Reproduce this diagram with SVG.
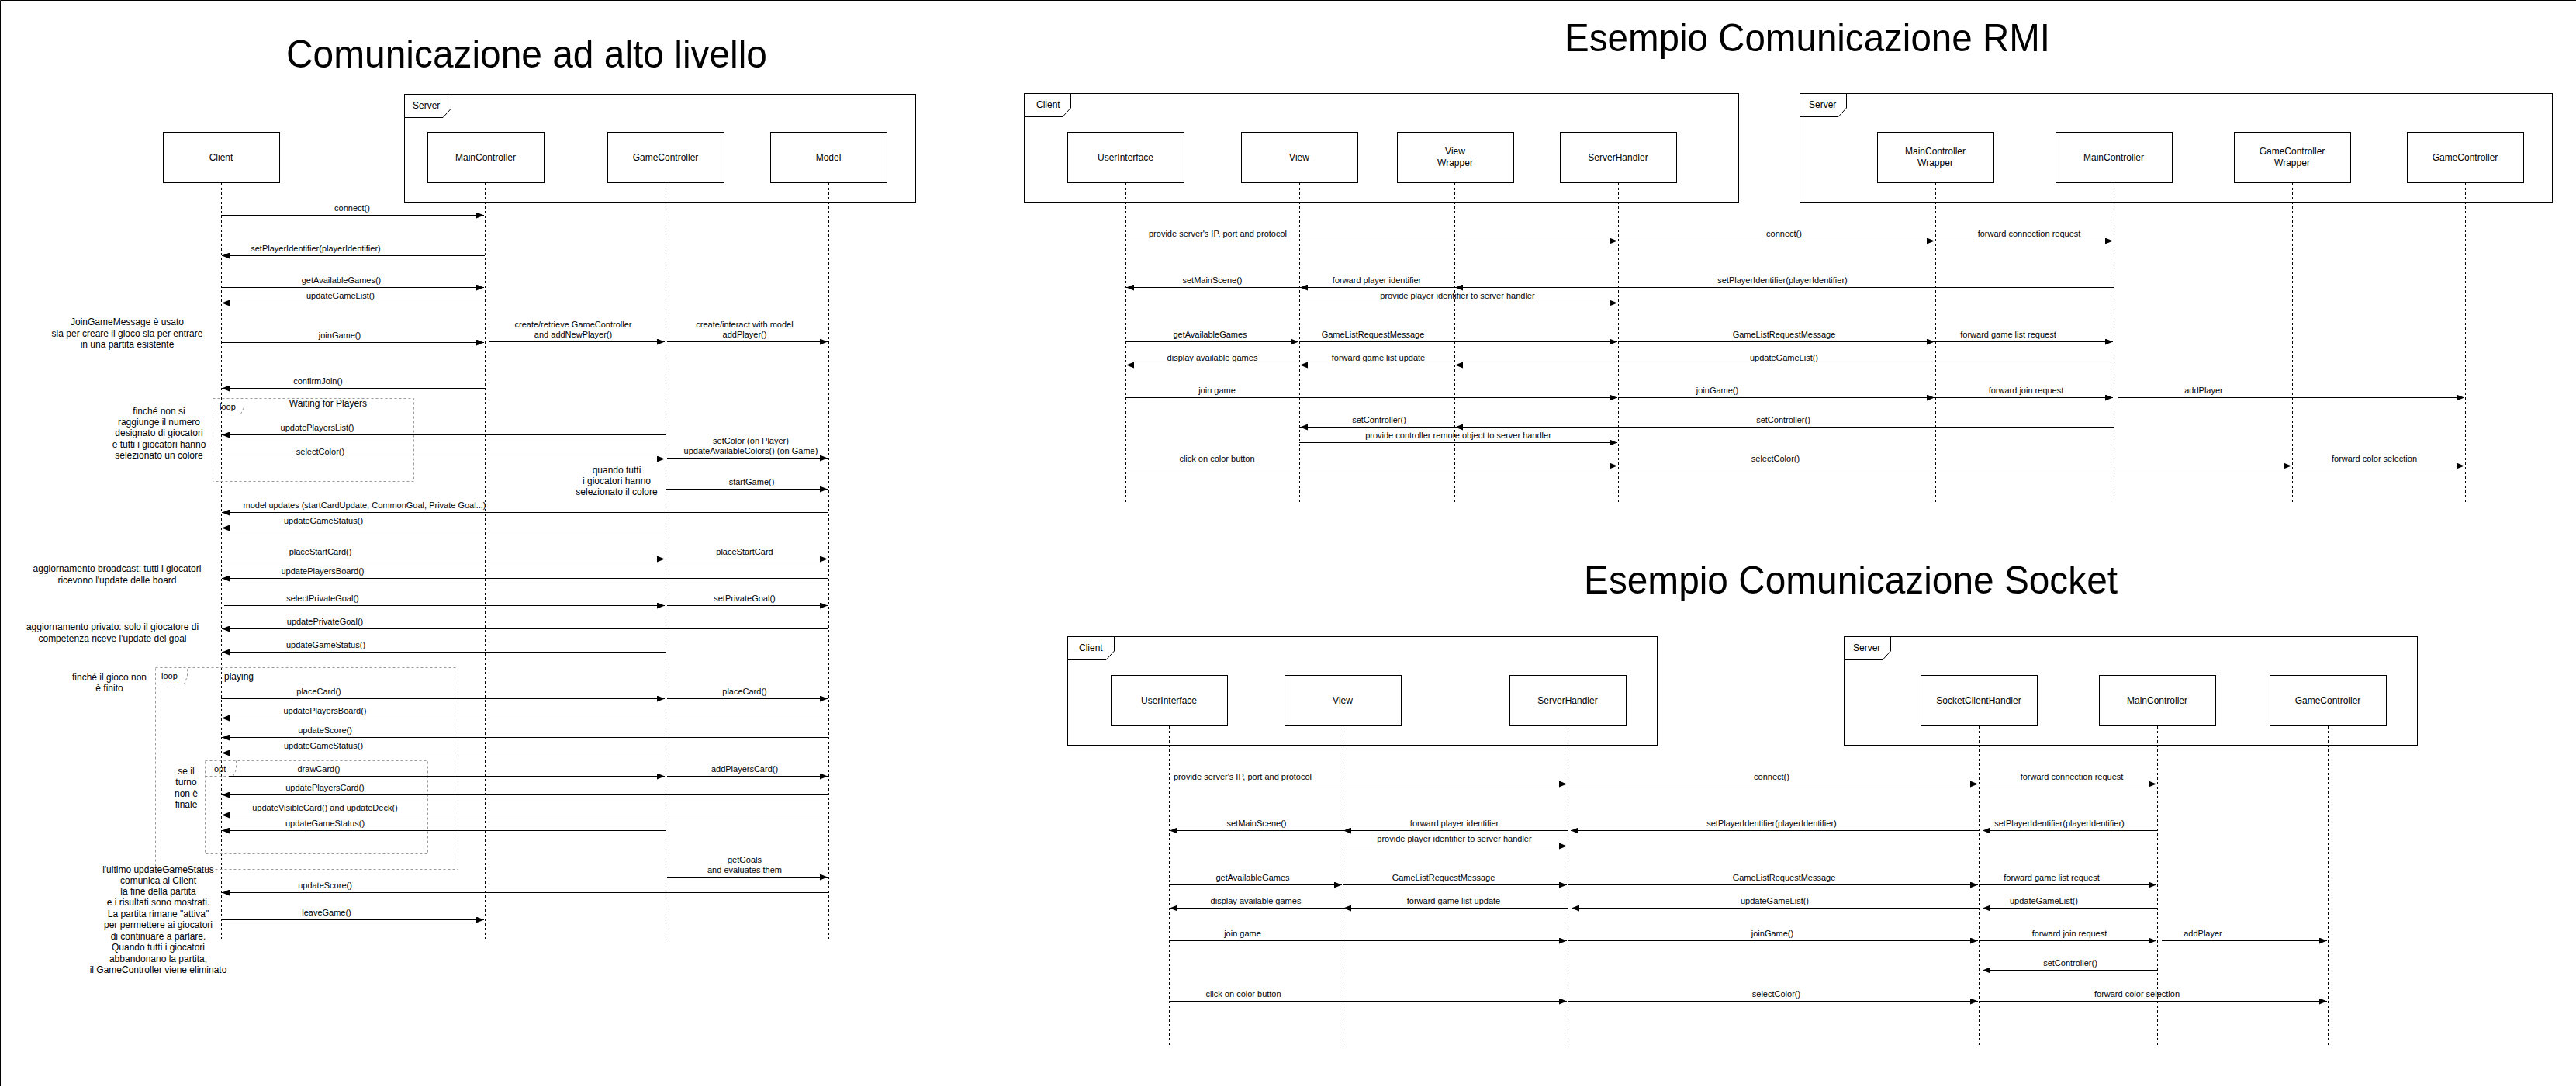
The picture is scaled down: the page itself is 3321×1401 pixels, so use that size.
<svg xmlns="http://www.w3.org/2000/svg" width="3321" height="1401" viewBox="0 0 3321 1401">
<style>
text{font-family:"Liberation Sans",Arial,sans-serif;fill:#000}
.lb{font-size:11px;text-anchor:middle}
.nt{font-size:12px;text-anchor:middle}
.bl{font-size:12px;text-anchor:middle}
.ts{font-size:12px}
.tt{font-size:50px;text-anchor:middle}
.box{fill:#fff;stroke:#000;stroke-width:1}
.life{stroke:#000;stroke-width:1;stroke-dasharray:3 3;fill:none}
.frm{fill:none;stroke:#000;stroke-width:1}
.tab{fill:#fff;stroke:#000;stroke-width:1}
.lp{fill:none;stroke:#999;stroke-width:1;stroke-dasharray:3 3}
.m{stroke:#000;stroke-width:1;fill:none;marker-end:url(#a)}
</style>
<defs>
<marker id="a" viewBox="0 0 10 8" refX="10" refY="4" markerWidth="10" markerHeight="8" markerUnits="userSpaceOnUse" orient="auto"><path d="M0,0L10,4L0,8z" fill="#000"/></marker>
</defs>
<rect x="0" y="0" width="3321" height="1401" fill="#fff"/>
<path d="M0.5,1400V0.5H3321" fill="none" stroke="#000"/>

<g id="titles">
<text class="tt" x="679" y="87" textLength="620" lengthAdjust="spacingAndGlyphs">Comunicazione ad alto livello</text>
<text class="tt" x="2330" y="66" textLength="626" lengthAdjust="spacingAndGlyphs">Esempio Comunicazione RMI</text>
<text class="tt" x="2386" y="765" textLength="688" lengthAdjust="spacingAndGlyphs">Esempio Comunicazione Socket</text>
</g>

<!-- ===== High level ===== -->
<g id="hl-server-frame">
<rect class="frm" x="521.5" y="121.5" width="659" height="139"/>
<path class="tab" d="M521.5,121.5H581.5V140L571,151.5H521.5Z"/>
<text class="ts" x="532" y="140">Server</text>
</g>
<g id="hl-client"><rect class="box" x="210.5" y="170.5" width="150" height="65"/><text class="bl" x="285" y="207">Client</text><line class="life" x1="285.5" y1="236" x2="285.5" y2="1210"/></g>
<g id="hl-maincontroller"><rect class="box" x="551.5" y="170.5" width="150" height="65"/><text class="bl" x="626" y="207">MainController</text><line class="life" x1="625.5" y1="236" x2="625.5" y2="1210"/></g>
<g id="hl-gamecontroller"><rect class="box" x="783.5" y="170.5" width="150" height="65"/><text class="bl" x="858" y="207">GameController</text><line class="life" x1="858.5" y1="236" x2="858.5" y2="1210"/></g>
<g id="hl-model"><rect class="box" x="993.5" y="170.5" width="150" height="65"/><text class="bl" x="1068" y="207">Model</text><line class="life" x1="1068.5" y1="236" x2="1068.5" y2="1210"/></g>

<g id="hl-loop-waiting">
<rect class="lp" x="274.5" y="513.5" width="259" height="107"/>
<path class="lp" d="M274.5,533.5H310.5L314.5,525V513.5"/>
<text class="lb" x="283" y="528" style="text-anchor:start">loop</text>
<text class="bl" x="423" y="524">Waiting for Players</text>
</g>
<g id="hl-loop-playing">
<rect class="lp" x="200.5" y="860.5" width="390" height="260"/>
<path class="lp" d="M200.5,881.5H237.5L241.5,872V860.5"/>
<text class="lb" x="208" y="875" style="text-anchor:start">loop</text>
<text class="ts" x="289" y="876">playing</text>
</g>
<g id="hl-opt">
<rect class="lp" x="264.5" y="980.5" width="287" height="120"/>
<path class="lp" d="M264.5,1000.5H300.5L304.5,992V980.5"/>
<text class="lb" x="276" y="995" style="text-anchor:start">opt</text>
</g>

<g id="hl-notes">
<text class="nt" x="164"><tspan x="164" y="419">JoinGameMessage è usato</tspan><tspan x="164" y="434">sia per creare il gioco sia per entrare</tspan><tspan x="164" y="448">in una partita esistente</tspan></text>
<text class="nt"><tspan x="205" y="534">finché non si</tspan><tspan x="205" y="548">raggiunge il numero</tspan><tspan x="205" y="562">designato di giocatori</tspan><tspan x="205" y="577">e tutti i giocatori hanno</tspan><tspan x="205" y="591">selezionato un colore</tspan></text>
<text class="nt"><tspan x="795" y="610">quando tutti</tspan><tspan x="795" y="624">i giocatori hanno</tspan><tspan x="795" y="638">selezionato il colore</tspan></text>
<text class="nt"><tspan x="151" y="737">aggiornamento broadcast: tutti i giocatori</tspan><tspan x="151" y="752">ricevono l'update delle board</tspan></text>
<text class="nt"><tspan x="145" y="812">aggiornamento privato: solo il giocatore di</tspan><tspan x="145" y="827">competenza riceve l'update del goal</tspan></text>
<text class="nt"><tspan x="141" y="877">finché il gioco non</tspan><tspan x="141" y="891">è finito</tspan></text>
<text class="nt"><tspan x="240" y="998">se il</tspan><tspan x="240" y="1012">turno</tspan><tspan x="240" y="1027">non è</tspan><tspan x="240" y="1041">finale</tspan></text>
<text class="nt"><tspan x="204" y="1125">l'ultimo updateGameStatus</tspan><tspan x="204" y="1139">comunica al Client</tspan><tspan x="204" y="1153">la fine della partita</tspan><tspan x="204" y="1167">e i risultati sono mostrati.</tspan><tspan x="204" y="1182">La partita rimane "attiva"</tspan><tspan x="204" y="1196">per permettere ai giocatori</tspan><tspan x="204" y="1211">di continuare a parlare.</tspan><tspan x="204" y="1225">Quando tutti i giocatori</tspan><tspan x="204" y="1240">abbandonano la partita,</tspan><tspan x="204" y="1254">il GameController viene eliminato</tspan></text>
</g>

<g id="hl-connectors">
<line class="m" x1="285" y1="277.5" x2="624" y2="277.5"/><text class="lb" x="454" y="272">connect()</text>
<line class="m" x1="625" y1="329.5" x2="286" y2="329.5"/><text class="lb" x="407" y="324">setPlayerIdentifier(playerIdentifier)</text>
<line class="m" x1="285" y1="370.5" x2="624" y2="370.5"/><text class="lb" x="440" y="365">getAvailableGames()</text>
<line class="m" x1="625" y1="390.5" x2="286" y2="390.5"/><text class="lb" x="439" y="385">updateGameList()</text>
<line class="m" x1="285" y1="441.5" x2="624" y2="441.5"/><text class="lb" x="438" y="436">joinGame()</text>
<line class="m" x1="631" y1="440.5" x2="857" y2="440.5"/><text class="lb"><tspan x="739" y="422">create/retrieve GameController</tspan><tspan x="739" y="435">and addNewPlayer()</tspan></text>
<line class="m" x1="860" y1="440.5" x2="1067" y2="440.5"/><text class="lb"><tspan x="960" y="422">create/interact with model</tspan><tspan x="960" y="435">addPlayer()</tspan></text>
<line class="m" x1="625" y1="500.5" x2="286" y2="500.5"/><text class="lb" x="410" y="495">confirmJoin()</text>
<line class="m" x1="858" y1="560.5" x2="286" y2="560.5"/><text class="lb" x="409" y="555">updatePlayersList()</text>
<line class="m" x1="285" y1="591.5" x2="857" y2="591.5"/><text class="lb" x="413" y="586">selectColor()</text>
<line class="m" x1="860" y1="590.5" x2="1067" y2="590.5"/><text class="lb"><tspan x="968" y="572">setColor (on Player)</tspan><tspan x="968" y="585">updateAvailableColors() (on Game)</tspan></text>
<line class="m" x1="858" y1="630.5" x2="1067" y2="630.5"/><text class="lb" x="969" y="625">startGame()</text>
<line class="m" x1="1068" y1="660.5" x2="286" y2="660.5"/><text class="lb" x="470" y="655">model updates (startCardUpdate, CommonGoal, Private Goal...)</text>
<line class="m" x1="858" y1="680.5" x2="286" y2="680.5"/><text class="lb" x="417" y="675">updateGameStatus()</text>
<line class="m" x1="285" y1="720.5" x2="857" y2="720.5"/><text class="lb" x="413" y="715">placeStartCard()</text>
<line class="m" x1="860" y1="720.5" x2="1067" y2="720.5"/><text class="lb" x="960" y="715">placeStartCard</text>
<line class="m" x1="1068" y1="745.5" x2="286" y2="745.5"/><text class="lb" x="416" y="740">updatePlayersBoard()</text>
<line class="m" x1="289" y1="780.5" x2="857" y2="780.5"/><text class="lb" x="416" y="775">selectPrivateGoal()</text>
<line class="m" x1="860" y1="780.5" x2="1067" y2="780.5"/><text class="lb" x="960" y="775">setPrivateGoal()</text>
<line class="m" x1="1068" y1="810.5" x2="286" y2="810.5"/><text class="lb" x="419" y="805">updatePrivateGoal()</text>
<line class="m" x1="858" y1="840.5" x2="286" y2="840.5"/><text class="lb" x="420" y="835">updateGameStatus()</text>
<line class="m" x1="285" y1="900.5" x2="857" y2="900.5"/><text class="lb" x="411" y="895">placeCard()</text>
<line class="m" x1="860" y1="900.5" x2="1067" y2="900.5"/><text class="lb" x="960" y="895">placeCard()</text>
<line class="m" x1="1068" y1="925.5" x2="286" y2="925.5"/><text class="lb" x="419" y="920">updatePlayersBoard()</text>
<line class="m" x1="1068" y1="950.5" x2="286" y2="950.5"/><text class="lb" x="419" y="945">updateScore()</text>
<line class="m" x1="858" y1="970.5" x2="286" y2="970.5"/><text class="lb" x="417" y="965">updateGameStatus()</text>
<line class="m" x1="295" y1="1000.5" x2="857" y2="1000.5"/><text class="lb" x="411" y="995">drawCard()</text>
<line class="m" x1="860" y1="1000.5" x2="1067" y2="1000.5"/><text class="lb" x="960" y="995">addPlayersCard()</text>
<line class="m" x1="1068" y1="1024.5" x2="286" y2="1024.5"/><text class="lb" x="419" y="1019">updatePlayersCard()</text>
<line class="m" x1="1068" y1="1050.5" x2="286" y2="1050.5"/><text class="lb" x="419" y="1045">updateVisibleCard() and updateDeck()</text>
<line class="m" x1="858" y1="1070.5" x2="286" y2="1070.5"/><text class="lb" x="419" y="1065">updateGameStatus()</text>
<line class="m" x1="860" y1="1130.5" x2="1067" y2="1130.5"/><text class="lb"><tspan x="960" y="1112">getGoals</tspan><tspan x="960" y="1125">and evaluates them</tspan></text>
<line class="m" x1="1068" y1="1150.5" x2="286" y2="1150.5"/><text class="lb" x="419" y="1145">updateScore()</text>
<line class="m" x1="285" y1="1185.5" x2="624" y2="1185.5"/><text class="lb" x="421" y="1180">leaveGame()</text>
</g>

<!-- ===== RMI ===== -->
<g id="rmi-client-frame">
<rect class="frm" x="1320.5" y="120.5" width="921" height="140"/>
<path class="tab" d="M1320.5,120.5H1380.5V139L1370,150.5H1320.5Z"/>
<text class="ts" x="1336" y="139">Client</text>
</g>
<g id="rmi-server-frame">
<rect class="frm" x="2320.5" y="120.5" width="970" height="140"/>
<path class="tab" d="M2320.5,120.5H2380.5V139L2370,150.5H2320.5Z"/>
<text class="ts" x="2332" y="139">Server</text>
</g>
<g id="rmi-userinterface"><rect class="box" x="1376.5" y="170.5" width="150" height="65"/><text class="bl" x="1451" y="207">UserInterface</text><line class="life" x1="1451.5" y1="236" x2="1451.5" y2="650"/></g>
<g id="rmi-view"><rect class="box" x="1600.5" y="170.5" width="150" height="65"/><text class="bl" x="1675" y="207">View</text><line class="life" x1="1675.5" y1="236" x2="1675.5" y2="650"/></g>
<g id="rmi-viewwrapper"><rect class="box" x="1801.5" y="170.5" width="150" height="65"/><text class="bl"><tspan x="1876" y="199">View</tspan><tspan x="1876" y="214">Wrapper</tspan></text><line class="life" x1="1875.5" y1="236" x2="1875.5" y2="650"/></g>
<g id="rmi-serverhandler"><rect class="box" x="2011.5" y="170.5" width="150" height="65"/><text class="bl" x="2086" y="207">ServerHandler</text><line class="life" x1="2086.5" y1="236" x2="2086.5" y2="650"/></g>
<g id="rmi-maincontrollerwrapper"><rect class="box" x="2420.5" y="170.5" width="150" height="65"/><text class="bl"><tspan x="2495" y="199">MainController</tspan><tspan x="2495" y="214">Wrapper</tspan></text><line class="life" x1="2495.5" y1="236" x2="2495.5" y2="650"/></g>
<g id="rmi-maincontroller"><rect class="box" x="2650.5" y="170.5" width="150" height="65"/><text class="bl" x="2725" y="207">MainController</text><line class="life" x1="2725.5" y1="236" x2="2725.5" y2="650"/></g>
<g id="rmi-gamecontrollerwrapper"><rect class="box" x="2880.5" y="170.5" width="150" height="65"/><text class="bl"><tspan x="2955" y="199">GameController</tspan><tspan x="2955" y="214">Wrapper</tspan></text><line class="life" x1="2955.5" y1="236" x2="2955.5" y2="650"/></g>
<g id="rmi-gamecontroller"><rect class="box" x="3103.5" y="170.5" width="150" height="65"/><text class="bl" x="3178" y="207">GameController</text><line class="life" x1="3178.5" y1="236" x2="3178.5" y2="650"/></g>

<g id="rmi-connectors">
<line class="m" x1="1451" y1="310.5" x2="2085" y2="310.5"/><text class="lb" x="1570" y="305">provide server's IP, port and protocol</text>
<line class="m" x1="2086" y1="310.5" x2="2494" y2="310.5"/><text class="lb" x="2300" y="305">connect()</text>
<line class="m" x1="2495" y1="310.5" x2="2724" y2="310.5"/><text class="lb" x="2616" y="305">forward connection request</text>
<line class="m" x1="2725" y1="370.5" x2="1876" y2="370.5"/><text class="lb" x="2298" y="365">setPlayerIdentifier(playerIdentifier)</text>
<line class="m" x1="1875" y1="370.5" x2="1676" y2="370.5"/><text class="lb" x="1775" y="365">forward player identifier</text>
<line class="m" x1="1675" y1="370.5" x2="1452" y2="370.5"/><text class="lb" x="1563" y="365">setMainScene()</text>
<line class="m" x1="1675" y1="390.5" x2="2085" y2="390.5"/><text class="lb" x="1879" y="385">provide player identifier to server handler</text>
<line class="m" x1="1451" y1="440.5" x2="1674" y2="440.5"/><text class="lb" x="1560" y="435">getAvailableGames</text>
<line class="m" x1="1675" y1="440.5" x2="2085" y2="440.5"/><text class="lb" x="1770" y="435">GameListRequestMessage</text>
<line class="m" x1="2086" y1="440.5" x2="2494" y2="440.5"/><text class="lb" x="2300" y="435">GameListRequestMessage</text>
<line class="m" x1="2495" y1="440.5" x2="2724" y2="440.5"/><text class="lb" x="2589" y="435">forward game list request</text>
<line class="m" x1="2725" y1="470.5" x2="1876" y2="470.5"/><text class="lb" x="2300" y="465">updateGameList()</text>
<line class="m" x1="1875" y1="470.5" x2="1676" y2="470.5"/><text class="lb" x="1777" y="465">forward game list update</text>
<line class="m" x1="1675" y1="470.5" x2="1452" y2="470.5"/><text class="lb" x="1563" y="465">display available games</text>
<line class="m" x1="1451" y1="512.5" x2="2085" y2="512.5"/><text class="lb" x="1569" y="507">join game</text>
<line class="m" x1="2086" y1="512.5" x2="2494" y2="512.5"/><text class="lb" x="2214" y="507">joinGame()</text>
<line class="m" x1="2495" y1="512.5" x2="2724" y2="512.5"/><text class="lb" x="2612" y="507">forward join request</text>
<line class="m" x1="2731" y1="512.5" x2="3177" y2="512.5"/><text class="lb" x="2841" y="507">addPlayer</text>
<line class="m" x1="2725" y1="550.5" x2="1876" y2="550.5"/><text class="lb" x="2299" y="545">setController()</text>
<line class="m" x1="1875" y1="550.5" x2="1676" y2="550.5"/><text class="lb" x="1778" y="545">setController()</text>
<line class="m" x1="1675" y1="570.5" x2="2085" y2="570.5"/><text class="lb" x="1880" y="565">provide controller remote object to server handler</text>
<line class="m" x1="1451" y1="600.5" x2="2085" y2="600.5"/><text class="lb" x="1569" y="595">click on color button</text>
<line class="m" x1="2086" y1="600.5" x2="2954" y2="600.5"/><text class="lb" x="2289" y="595">selectColor()</text>
<line class="m" x1="2955" y1="600.5" x2="3177" y2="600.5"/><text class="lb" x="3061" y="595">forward color selection</text>
</g>

<!-- ===== Socket ===== -->
<g id="sock-client-frame">
<rect class="frm" x="1376.5" y="820.5" width="760" height="140"/>
<path class="tab" d="M1376.5,820.5H1436.5V839L1426,850.5H1376.5Z"/>
<text class="ts" x="1391" y="839">Client</text>
</g>
<g id="sock-server-frame">
<rect class="frm" x="2377.5" y="820.5" width="739" height="140"/>
<path class="tab" d="M2377.5,820.5H2437.5V839L2427,850.5H2377.5Z"/>
<text class="ts" x="2389" y="839">Server</text>
</g>
<g id="sock-userinterface"><rect class="box" x="1432.5" y="870.5" width="150" height="65"/><text class="bl" x="1507" y="907">UserInterface</text><line class="life" x1="1507.5" y1="936" x2="1507.5" y2="1350"/></g>
<g id="sock-view"><rect class="box" x="1656.5" y="870.5" width="150" height="65"/><text class="bl" x="1731" y="907">View</text><line class="life" x1="1731.5" y1="936" x2="1731.5" y2="1350"/></g>
<g id="sock-serverhandler"><rect class="box" x="1946.5" y="870.5" width="150" height="65"/><text class="bl" x="2021" y="907">ServerHandler</text><line class="life" x1="2021.5" y1="936" x2="2021.5" y2="1350"/></g>
<g id="sock-socketclienthandler"><rect class="box" x="2476.5" y="870.5" width="150" height="65"/><text class="bl" x="2551" y="907">SocketClientHandler</text><line class="life" x1="2551.5" y1="936" x2="2551.5" y2="1350"/></g>
<g id="sock-maincontroller"><rect class="box" x="2706.5" y="870.5" width="150" height="65"/><text class="bl" x="2781" y="907">MainController</text><line class="life" x1="2781.5" y1="936" x2="2781.5" y2="1350"/></g>
<g id="sock-gamecontroller"><rect class="box" x="2926.5" y="870.5" width="150" height="65"/><text class="bl" x="3001" y="907">GameController</text><line class="life" x1="3001.5" y1="936" x2="3001.5" y2="1350"/></g>

<g id="sock-connectors">
<line class="m" x1="1507" y1="1010.5" x2="2020" y2="1010.5"/><text class="lb" x="1602" y="1005">provide server's IP, port and protocol</text>
<line class="m" x1="2021" y1="1010.5" x2="2550" y2="1010.5"/><text class="lb" x="2284" y="1005">connect()</text>
<line class="m" x1="2551" y1="1010.5" x2="2780" y2="1010.5"/><text class="lb" x="2671" y="1005">forward connection request</text>
<line class="m" x1="2781" y1="1070.5" x2="2556" y2="1070.5"/><text class="lb" x="2655" y="1065">setPlayerIdentifier(playerIdentifier)</text>
<line class="m" x1="2551" y1="1070.5" x2="2025" y2="1070.5"/><text class="lb" x="2284" y="1065">setPlayerIdentifier(playerIdentifier)</text>
<line class="m" x1="2021" y1="1070.5" x2="1732" y2="1070.5"/><text class="lb" x="1875" y="1065">forward player identifier</text>
<line class="m" x1="1731" y1="1070.5" x2="1508" y2="1070.5"/><text class="lb" x="1620" y="1065">setMainScene()</text>
<line class="m" x1="1731" y1="1090.5" x2="2020" y2="1090.5"/><text class="lb" x="1875" y="1085">provide player identifier to server handler</text>
<line class="m" x1="1507" y1="1140.5" x2="1730" y2="1140.5"/><text class="lb" x="1615" y="1135">getAvailableGames</text>
<line class="m" x1="1731" y1="1140.5" x2="2020" y2="1140.5"/><text class="lb" x="1861" y="1135">GameListRequestMessage</text>
<line class="m" x1="2021" y1="1140.5" x2="2550" y2="1140.5"/><text class="lb" x="2300" y="1135">GameListRequestMessage</text>
<line class="m" x1="2551" y1="1140.5" x2="2780" y2="1140.5"/><text class="lb" x="2645" y="1135">forward game list request</text>
<line class="m" x1="2781" y1="1170.5" x2="2556" y2="1170.5"/><text class="lb" x="2635" y="1165">updateGameList()</text>
<line class="m" x1="2551" y1="1170.5" x2="2026" y2="1170.5"/><text class="lb" x="2288" y="1165">updateGameList()</text>
<line class="m" x1="2021" y1="1170.5" x2="1732" y2="1170.5"/><text class="lb" x="1874" y="1165">forward game list update</text>
<line class="m" x1="1731" y1="1170.5" x2="1508" y2="1170.5"/><text class="lb" x="1619" y="1165">display available games</text>
<line class="m" x1="1507" y1="1212.5" x2="2020" y2="1212.5"/><text class="lb" x="1602" y="1207">join game</text>
<line class="m" x1="2021" y1="1212.5" x2="2550" y2="1212.5"/><text class="lb" x="2285" y="1207">joinGame()</text>
<line class="m" x1="2551" y1="1212.5" x2="2780" y2="1212.5"/><text class="lb" x="2668" y="1207">forward join request</text>
<line class="m" x1="2787" y1="1212.5" x2="3000" y2="1212.5"/><text class="lb" x="2840" y="1207">addPlayer</text>
<line class="m" x1="2781" y1="1250.5" x2="2556" y2="1250.5"/><text class="lb" x="2669" y="1245">setController()</text>
<line class="m" x1="1507" y1="1290.5" x2="2020" y2="1290.5"/><text class="lb" x="1603" y="1285">click on color button</text>
<line class="m" x1="2021" y1="1290.5" x2="2550" y2="1290.5"/><text class="lb" x="2290" y="1285">selectColor()</text>
<line class="m" x1="2551" y1="1290.5" x2="3000" y2="1290.5"/><text class="lb" x="2755" y="1285">forward color selection</text>
</g>
</svg>
